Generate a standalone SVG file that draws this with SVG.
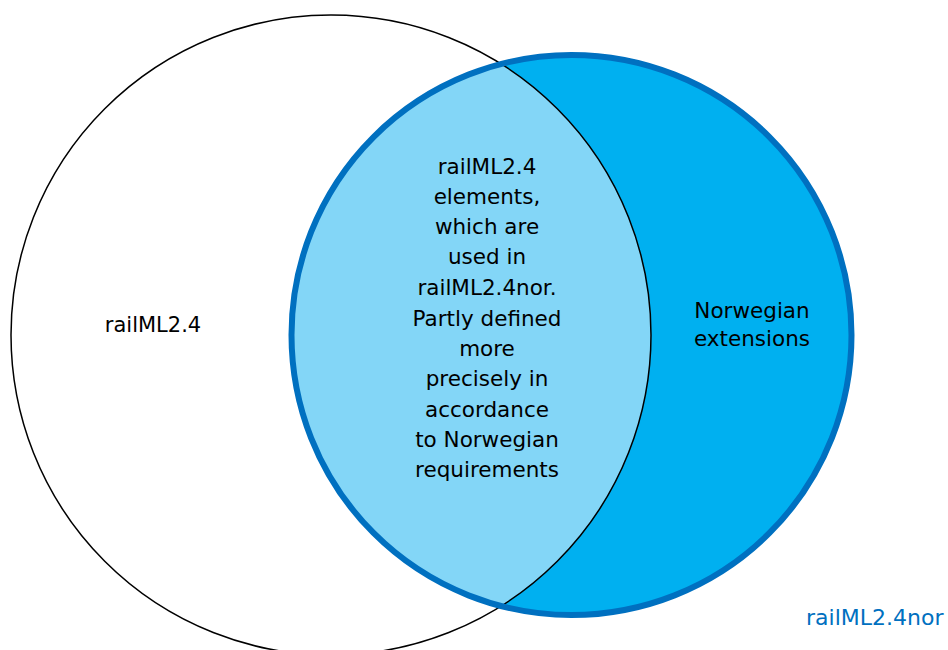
<svg xmlns="http://www.w3.org/2000/svg" width="948" height="650" viewBox="0 0 948 650">
<style>
.lbl{font-family:"DejaVu Sans","Liberation Sans",sans-serif;fill:#000;text-anchor:middle}
</style>
<defs>
<clipPath id="blueClip"><circle cx="571.5" cy="335" r="280"/></clipPath>
</defs>
<rect width="948" height="650" fill="#fff"/>
<g id="set-railml24">
<circle cx="331" cy="335" r="320" fill="#fff" stroke="#000" stroke-width="1.5"/>
</g>
<g id="set-railml24nor">
<circle cx="571.5" cy="335" r="280" fill="#00B0F0"/>
</g>
<g id="intersection" clip-path="url(#blueClip)">
<circle cx="331" cy="335" r="320" fill="#83D6F7" stroke="#000" stroke-width="1.5"/>
</g>
<g id="set-railml24nor-border">
<circle cx="571.5" cy="335" r="280" fill="none" stroke="#0070C0" stroke-width="6"/>
</g>
<g id="label-railml24">
<text class="lbl" x="153" y="332" font-size="21">railML2.4</text>
</g>
<g id="label-intersection">
<text class="lbl" font-size="21.5"><tspan x="487" y="174">railML2.4</tspan><tspan x="487" y="204">elements,</tspan><tspan x="487" y="234">which are</tspan><tspan x="487" y="264">used in</tspan><tspan x="487" y="295">railML2.4nor.</tspan><tspan x="487" y="326">Partly defined</tspan><tspan x="487" y="356">more</tspan><tspan x="487" y="386">precisely in</tspan><tspan x="487" y="417">accordance</tspan><tspan x="487" y="447">to Norwegian</tspan><tspan x="487" y="477">requirements</tspan></text>
</g>
<g id="label-extensions">
<text class="lbl" font-size="21.5"><tspan x="752" y="318">Norwegian</tspan><tspan x="752" y="346">extensions</tspan></text>
</g>
<g id="label-railml24nor">
<text x="806" y="625" font-size="22" font-family="DejaVu Sans, Liberation Sans, sans-serif" fill="#0070C0">railML2.4nor</text>
</g>
<g id="connectors"/>
</svg>
